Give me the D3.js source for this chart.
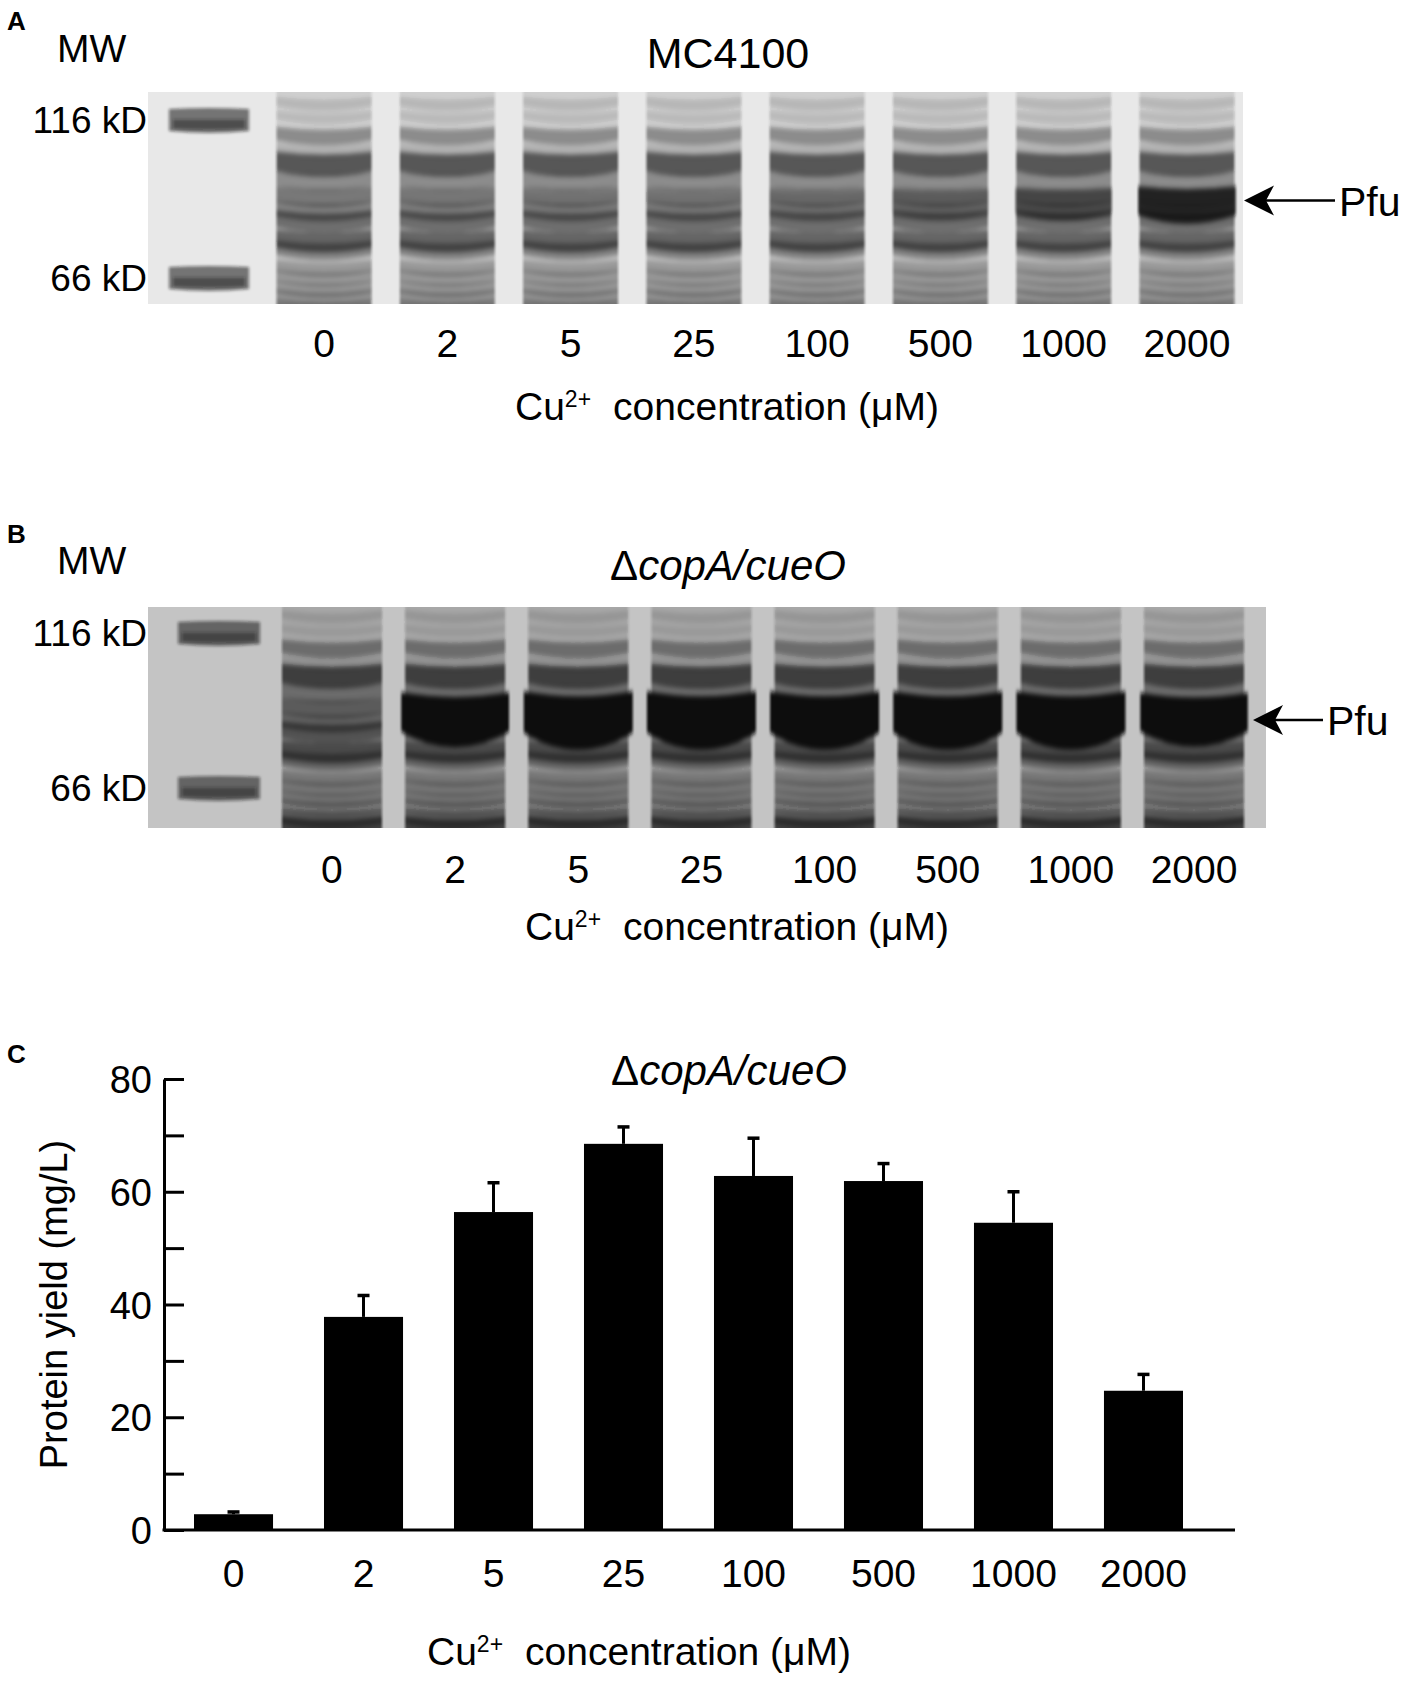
<!DOCTYPE html>
<html>
<head>
<meta charset="utf-8">
<script src="https://cdn.jsdelivr.net/npm/d3@7"></script>
<style>
    body { margin: 0; background: #fff; }
    text { font-family: "Liberation Sans", Arial, sans-serif; fill: #000; }
</style>
</head>
<body>
<div id="figure"></div>
<script>

// lane / bar categories (Cu2+ concentration, uM)
var concLabels = ["0", "2", "5", "25", "100", "500", "1000", "2000"];

// panel C - protein yield (mg/L), bar height and upper error
var yieldMean = [2.8, 37.8, 56.4, 68.5, 62.8, 61.9, 54.5, 24.7];
var yieldErr = [0.4, 3.8, 5.2, 3.0, 6.7, 3.1, 5.5, 2.9];
var yTicks = [0, 10, 20, 30, 40, 50, 60, 70, 80];
var yTickLabels = ["0", "", "20", "", "40", "", "60", "", "80"];

// gels - marker ladder
var markerKDa = [116, 66];
var markerLabels = ["116 kD", "66 kD"];

var lysateKDa = [124, 118, 110.5, 105, 100, 94, 89, 84.5, 81.5, 76, 73.5, 69, 66.5, 64, 62, 59.5, 57.5];
var lysateDensity = [0.12, 0.1, 0.35, 0.15, 0.62, 0.35, 0.45, 0.4, 0.5, 0.55, 0.4, 0.28, 0.28, 0.28, 0.3, 0.4, 0.6];

// Pfu band, apparent kDa and relative amount in each lane
var pfuKDa = 87;
var pfuAmountA = [0, 0.05, 0.1, 0.1, 0.2, 0.35, 0.6, 1.0];
var pfuAmountB = [0, 2.6, 3, 3, 3, 3, 3, 2.5];


var svg = d3.select("#figure").append("svg")
    .attr("width", 1417)
    .attr("height", 1681);

var defs = svg.append("defs");

//soft edges for the gel bands
defs.append("filter")
    .attr("id", "band-blur")
    .append("feGaussianBlur")
    .attr("stdDeviation", "0.9 2.8");

defs.append("filter")
    .attr("id", "marker-blur")
    .attr("x", "-20%").attr("y", "-20%")
    .attr("width", "140%").attr("height", "140%")
    .append("feGaussianBlur")
    .attr("stdDeviation", "1.6 1.8");


/*
 * GelPanel - one SDS-PAGE panel (A or B)
 */
GelPanel = function(_parentElement, _layout, _pfuAmount) {
    this.parentElement = _parentElement;
    this.layout = _layout;
    this.pfuAmount = _pfuAmount;
    this.displayData = [];
    this.initVis();
};

GelPanel.prototype.initVis = function() {

    var vis = this;
    var L = vis.layout;

    vis.g = vis.parentElement.append("g")
        .attr("class", "gel-panel");

    //lanes on x, migration on a log kDa scale calibrated by the marker
    vis.x = d3.scaleBand()
        .domain(concLabels)
        .range(L.laneRange)
        .paddingInner(L.lanePad)
        .paddingOuter(L.lanePad / 2);

    vis.y = d3.scaleLog()
        .domain(markerKDa)
        .range([L.gel.top + L.marker116, L.gel.top + L.marker66]);

    vis.thickness = d3.scaleLinear()
        .domain([0, 1])
        .range([6, 28]);

    //clip to the gel slab
    vis.g.append("clipPath")
        .attr("id", "clip-" + L.id)
        .append("rect")
        .attr("x", L.gel.left)
        .attr("y", L.gel.top)
        .attr("width", L.gel.right - L.gel.left)
        .attr("height", L.gel.bottom - L.gel.top);

    vis.slab = vis.g.append("g")
        .attr("clip-path", "url(#clip-" + L.id + ")");

    vis.slab.append("rect")
        .attr("x", L.gel.left)
        .attr("y", L.gel.top)
        .attr("width", L.gel.right - L.gel.left)
        .attr("height", L.gel.bottom - L.gel.top)
        .attr("fill", L.gelColor);

    //panel letter, MW and strain
    vis.g.append("text")
        .attr("x", 7)
        .attr("y", L.letterY)
        .style("font-size", "26px")
        .style("font-weight", "bold")
        .text(L.letter);

    vis.g.append("text")
        .attr("x", 57)
        .attr("y", L.titleY - 6)
        .style("font-size", "39px")
        .text("MW");

    var title = vis.g.append("text")
        .attr("x", 728)
        .attr("y", L.titleY)
        .attr("text-anchor", "middle")
        .style("font-size", L.titleSize + "px");
    L.title.forEach(function(part) {
        title.append("tspan")
            .style("font-style", part.italic ? "italic" : "normal")
            .text(part.text);
    });

    vis.wrangleData();
};

GelPanel.prototype.wrangleData = function() {

    var vis = this;

    //one entry per lane: lysate bands plus the Pfu band on top
    vis.displayData = concLabels.map(function(label, i) {
        var bands = lysateKDa.map(function(kda, j) {
            return {
                kda: kda,
                density: Math.min(1, lysateDensity[j] * vis.layout.stain),
                thick: vis.thickness(lysateDensity[j]),
                sTop: 3,
                sBot: 5,
                bulge: 0
            };
        });
        var a = vis.pfuAmount[i];
        if (a > 0) {
            bands.push({
                kda: pfuKDa,
                density: Math.min(1, 0.8 * a),
                thick: 12 + 17 * Math.sqrt(a),
                sTop: 2 + a,
                sBot: 5 + 4 * a,
                bulge: 1.5 * a
            });
        }
        return {label: label, bands: bands};
    });

    vis.updateVis();
};

GelPanel.prototype.updateVis = function() {

    var vis = this;
    var L = vis.layout;
    var bw = vis.x.bandwidth();

    function bandPath(cx, hw, yc, t, sTop, sBot) {
        var p = d3.path();
        var top = yc - t / 2, bot = yc + t / 2;
        p.moveTo(cx - hw, top);
        p.quadraticCurveTo(cx, top + 2 * sTop, cx + hw, top);
        p.lineTo(cx + hw, bot);
        p.quadraticCurveTo(cx, bot + 2 * sBot, cx - hw, bot);
        p.closePath();
        return p.toString();
    }

    //marker lane
    var marker = vis.slab.append("g")
        .attr("filter", "url(#marker-blur)");

    marker.selectAll("path")
        .data(markerKDa)
        .enter()
        .append("path")
        .attr("d", function(d) {
            return bandPath(L.markerX, L.markerW / 2, vis.y(d), 22, -1, 2);
        })
        .attr("fill", "#1a1a1a")
        .attr("fill-opacity", 0.55);

    //darker lower edge of each marker band
    marker.selectAll(".core")
        .data(markerKDa)
        .enter()
        .append("path")
        .attr("class", "core")
        .attr("d", function(d) {
            return bandPath(L.markerX, L.markerW / 2 - 4, vis.y(d) + 4, 9, 0, 1);
        })
        .attr("fill", "#1a1a1a")
        .attr("fill-opacity", 0.45);

    //sample lanes
    var lanes = vis.slab.selectAll(".lane")
        .data(vis.displayData)
        .enter()
        .append("g")
        .attr("class", "lane")
        .attr("filter", "url(#band-blur)");

    lanes.append("rect")
        .attr("x", function(d) { return vis.x(d.label); })
        .attr("y", L.gel.top - 10)
        .attr("width", bw)
        .attr("height", L.gel.bottom - L.gel.top + 20)
        .attr("fill", "#3a3a3a")
        .attr("fill-opacity", L.laneTint);

    lanes.selectAll("path")
        .data(function(d) {
            return d.bands.map(function(b) { b.cx = vis.x(d.label) + bw / 2; return b; });
        })
        .enter()
        .append("path")
        .attr("d", function(b) {
            return bandPath(b.cx, bw / 2 + b.bulge, vis.y(b.kda), b.thick, b.sTop, b.sBot);
        })
        .attr("fill", "#111")
        .attr("fill-opacity", function(b) { return b.density; });

    //marker labels
    vis.g.selectAll(".mw-label")
        .data(markerKDa)
        .enter()
        .append("text")
        .attr("class", "mw-label")
        .attr("x", 147)
        .attr("y", function(d) { return vis.y(d) + 13; })
        .attr("text-anchor", "end")
        .style("font-size", "37px")
        .text(function(d, i) { return markerLabels[i]; });

    //lane labels
    vis.g.selectAll(".lane-label")
        .data(concLabels)
        .enter()
        .append("text")
        .attr("class", "lane-label")
        .attr("x", function(d) { return vis.x(d) + bw / 2; })
        .attr("y", L.laneLabelY)
        .attr("text-anchor", "middle")
        .style("font-size", "39px")
        .text(function(d) { return d; });

    //x title
    cuTitle(vis.g, L.axisTitleX, L.axisTitleY);

    //Pfu arrow
    var ay = vis.y(pfuKDa) + L.arrowDy;
    vis.g.append("line")
        .attr("x1", L.arrowTip + 20)
        .attr("x2", L.arrowEnd)
        .attr("y1", ay)
        .attr("y2", ay)
        .attr("stroke", "#000")
        .attr("stroke-width", 2.5);

    vis.g.append("path")
        .attr("d", "M" + L.arrowTip + "," + ay + "l30,-15l-8,15l8,15z")
        .attr("fill", "#000");

    vis.g.append("text")
        .attr("x", L.arrowEnd + 4)
        .attr("y", ay + 15)
        .style("font-size", "41px")
        .text("Pfu");
};


//"Cu2+  concentration (uM)" axis title
function cuTitle(g, cx, y) {
    var t = g.append("text")
        .attr("x", cx)
        .attr("y", y)
        .attr("text-anchor", "middle")
        .style("font-size", "39px");
    t.append("tspan").text("Cu");
    t.append("tspan")
        .attr("dy", -13)
        .style("font-size", "23px")
        .text("2+");
    t.append("tspan")
        .attr("dy", 13)
        .attr("dx", 22)
        .text("concentration (\u03bcM)");
}


/*
 * BarChart - panel C, protein yield per Cu2+ concentration
 */
BarChart = function(_parentElement, _data, _err) {
    this.parentElement = _parentElement;
    this.data = _data;
    this.err = _err;
    this.initVis();
};

BarChart.prototype.initVis = function() {

    var vis = this;

    vis.g = vis.parentElement.append("g")
        .attr("class", "bar-chart");

    vis.margin = {left: 164, top: 1079, bottom: 1530, right: 1235};

    vis.x = d3.scaleBand()
        .domain(concLabels)
        .range([168, 1209])
        .paddingInner(0.392)
        .paddingOuter(0.2);

    vis.y = d3.scaleLinear()
        .domain([0, 80])
        .range([vis.margin.bottom, vis.margin.top]);

    //ticks point inward, labels only every 20
    vis.yAxis = d3.axisLeft()
        .scale(vis.y)
        .tickValues(yTicks)
        .tickSizeInner(-20)
        .tickSizeOuter(0)
        .tickPadding(12)
        .tickFormat(function(d, i) { return yTickLabels[i]; });

    vis.g.append("text")
        .attr("x", 7)
        .attr("y", 1063)
        .style("font-size", "26px")
        .style("font-weight", "bold")
        .text("C");

    var title = vis.g.append("text")
        .attr("x", 729)
        .attr("y", 1085)
        .attr("text-anchor", "middle")
        .style("font-size", "42px");
    title.append("tspan").text("\u0394");
    title.append("tspan").style("font-style", "italic").text("copA/cueO");

    //y axis label
    vis.g.append("text")
        .attr("text-anchor", "middle")
        .attr("transform", "translate(67," + ((vis.margin.top + vis.margin.bottom) / 2) + ") rotate(-90)")
        .style("font-size", "38px")
        .text("Protein yield (mg/L)");

    cuTitle(vis.g, 639, 1665);

    vis.updateVis();
};

BarChart.prototype.updateVis = function() {

    var vis = this;
    var bw = vis.x.bandwidth();

    vis.g.selectAll(".bar")
        .data(vis.data)
        .enter()
        .append("rect")
        .attr("class", "bar")
        .attr("x", function(d, i) { return vis.x(concLabels[i]); })
        .attr("y", function(d) { return vis.y(d); })
        .attr("width", bw)
        .attr("height", function(d) { return vis.y(0) - vis.y(d); })
        .attr("fill", "#000");

    //upper error bars
    var eb = vis.g.selectAll(".err")
        .data(vis.data)
        .enter()
        .append("g")
        .attr("class", "err");

    eb.append("line")
        .attr("x1", function(d, i) { return vis.x(concLabels[i]) + bw / 2; })
        .attr("x2", function(d, i) { return vis.x(concLabels[i]) + bw / 2; })
        .attr("y1", function(d) { return vis.y(d); })
        .attr("y2", function(d, i) { return vis.y(d + vis.err[i]); })
        .attr("stroke", "#000")
        .attr("stroke-width", 3);

    eb.append("line")
        .attr("x1", function(d, i) { return vis.x(concLabels[i]) + bw / 2 - 6; })
        .attr("x2", function(d, i) { return vis.x(concLabels[i]) + bw / 2 + 6; })
        .attr("y1", function(d, i) { return vis.y(d + vis.err[i]); })
        .attr("y2", function(d, i) { return vis.y(d + vis.err[i]); })
        .attr("stroke", "#000")
        .attr("stroke-width", 3.5);

    //baseline
    vis.g.append("line")
        .attr("x1", vis.margin.left - 1.5)
        .attr("x2", vis.margin.right)
        .attr("y1", vis.y(0))
        .attr("y2", vis.y(0))
        .attr("stroke", "#000")
        .attr("stroke-width", 3);

    var ya = vis.g.append("g")
        .attr("class", "y-axis axis")
        .attr("transform", "translate(" + vis.margin.left + ",0)")
        .call(vis.yAxis);

    ya.selectAll("path, line")
        .attr("stroke-width", 3);
    ya.selectAll("text")
        .style("font-size", "38px")
        .attr("dy", "0.36em");
    ya.attr("font-family", null).attr("font-size", null);

    //category labels
    vis.g.selectAll(".x-label")
        .data(concLabels)
        .enter()
        .append("text")
        .attr("class", "x-label")
        .attr("x", function(d) { return vis.x(d) + bw / 2; })
        .attr("y", 1587)
        .attr("text-anchor", "middle")
        .style("font-size", "39px")
        .text(function(d) { return d; });
};


var gelA = new GelPanel(svg, {
    id: "a", letter: "A", letterY: 30,
    title: [{text: "MC4100", italic: false}], titleY: 68, titleSize: 43,
    gel: {left: 148, right: 1243, top: 92, bottom: 304},
    gelColor: "#e8e8e8", laneTint: 0.15, stain: 1.0,
    marker116: 28, marker66: 186,
    markerX: 209, markerW: 80,
    laneRange: [262.4, 1248.6], lanePad: 0.23,
    laneLabelY: 357, axisTitleX: 727, axisTitleY: 420,
    arrowTip: 1244, arrowEnd: 1335, arrowDy: 0
}, pfuAmountA);

var gelB = new GelPanel(svg, {
    id: "b", letter: "B", letterY: 543,
    title: [{text: "\u0394", italic: false}, {text: "copA/cueO", italic: true}], titleY: 580, titleSize: 42,
    gel: {left: 148, right: 1266, top: 607, bottom: 828},
    gelColor: "#c4c4c4", laneTint: 0.2, stain: 1.1,
    marker116: 26, marker66: 181,
    markerX: 219, markerW: 82,
    laneRange: [270.4, 1255.6], lanePad: 0.188,
    laneLabelY: 883, axisTitleX: 737, axisTitleY: 940,
    arrowTip: 1253, arrowEnd: 1323, arrowDy: 8
}, pfuAmountB);

var barC = new BarChart(svg, yieldMean, yieldErr);

</script>
</body>
</html>
